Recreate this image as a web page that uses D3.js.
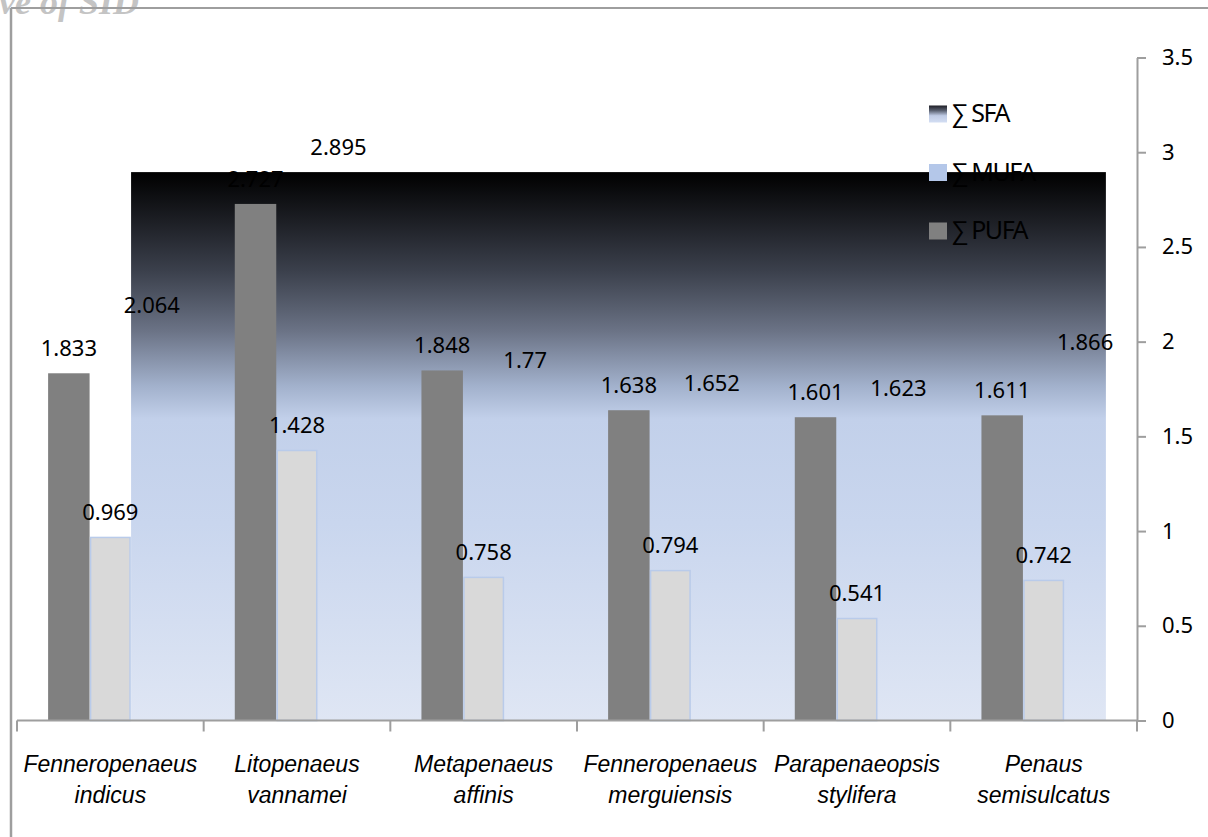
<!DOCTYPE html>
<html>
<head>
<meta charset="utf-8">
<script src="https://cdn.jsdelivr.net/npm/d3@7"></script>
<style>
  html, body { margin: 0; padding: 0; background: #fff; overflow: hidden; }
  svg { display: block; }
</style>
</head>
<body>
<svg id="chart" width="1208" height="837"></svg>
<script>
// Fatty acid totals per shrimp species
const categories = [
  "Fenneropenaeus indicus",
  "Litopenaeus vannamei",
  "Metapenaeus affinis",
  "Fenneropenaeus merguiensis",
  "Parapenaeopsis stylifera",
  "Penaus semisulcatus"
];
const sfa  = [2.064, 2.895, 1.77, 1.652, 1.623, 1.866];
const mufa = [0.969, 1.428, 0.758, 0.794, 0.541, 0.742];
const pufa = [1.833, 2.727, 1.848, 1.638, 1.601, 1.611];
const legendLabels = ["\u2211 SFA", "\u2211 MUFA", "\u2211 PUFA"];
const yTicks = [0, 0.5, 1, 1.5, 2, 2.5, 3, 3.5];

const svg = d3.select("#chart");
const plot = { left: 17, right: 1137, top: 57.5, bottom: 720.5 };
const axisColor = "#9e9e9e";
const numFont = "'Noto Sans', 'Open Sans', sans-serif";

const x = d3.scaleBand().domain(categories).range([plot.left, plot.right]).padding(0);
const slots = ["PUFA", "MUFA", "SFA"];
const xs = d3.scaleBand().domain(slots).range([0, x.bandwidth()])
  .paddingInner(0).paddingOuter(0.75);
const y = d3.scaleLinear().domain([0, 3.5]).range([plot.bottom, plot.top]);

// gradients
const defs = svg.append("defs");
const g1 = defs.append("linearGradient").attr("id", "sfaFill")
  .attr("x1", 0).attr("y1", 0).attr("x2", 0).attr("y2", 1);
[[0, "#000000"], [0.09, "#1d1f25"], [0.18, "#3b404c"], [0.25, "#596070"],
 [0.29, "#6b7386"], [0.39, "#a2b1cc"], [0.45, "#c2d0ea"], [0.64, "#c9d6ee"],
 [1, "#dfe6f4"]].forEach(([o, c]) => g1.append("stop").attr("offset", o).attr("stop-color", c));
const g2 = defs.append("linearGradient").attr("id", "sfaSwatch")
  .attr("x1", 0).attr("y1", 0).attr("x2", 0).attr("y2", 1);
[[0, "#1e1e26"], [0.3, "#5a6171"], [0.6, "#bfcbe5"], [1, "#d3def3"]]
  .forEach(([o, c]) => g2.append("stop").attr("offset", o).attr("stop-color", c));

// watermark
svg.append("text")
  .attr("x", 139).attr("y", 14)
  .attr("text-anchor", "end")
  .attr("font-family", "'Liberation Serif', serif")
  .attr("font-style", "italic").attr("font-weight", "bold")
  .attr("font-size", 36).attr("fill", "#c4c4c4")
  .text("Archive of SID");

// frame
svg.append("line").attr("x1", 11).attr("x2", 1208).attr("y1", 8).attr("y2", 8)
  .attr("stroke", axisColor).attr("stroke-width", 2);
svg.append("line").attr("x1", 11).attr("x2", 11).attr("y1", 8).attr("y2", 837)
  .attr("stroke", axisColor).attr("stroke-width", 2.5);

// SFA series block
const sfaX0 = x(categories[0]) + xs("SFA");
const sfaX1 = x(categories[categories.length - 1]) + xs("SFA") + xs.bandwidth();
svg.append("rect")
  .attr("x", sfaX0).attr("y", y(d3.max(sfa)))
  .attr("width", sfaX1 - sfaX0).attr("height", y(0) - y(d3.max(sfa)))
  .attr("fill", "url(#sfaFill)");

// PUFA bars
svg.append("g").selectAll("rect").data(pufa).join("rect")
  .attr("x", (d, i) => x(categories[i]) + xs("PUFA"))
  .attr("y", d => y(d))
  .attr("width", xs.bandwidth())
  .attr("height", d => y(0) - y(d))
  .attr("fill", "#808080");

// MUFA bars
svg.append("g").selectAll("rect").data(mufa).join("rect")
  .attr("x", (d, i) => x(categories[i]) + xs("MUFA") + 1)
  .attr("y", d => y(d) + 0.5)
  .attr("width", xs.bandwidth() - 2)
  .attr("height", d => y(0) - y(d) - 0.5)
  .attr("fill", "#d9d9d9")
  .attr("stroke", "#b9cbea").attr("stroke-width", 1.5);

// value labels
const labelSets = [["PUFA", pufa], ["MUFA", mufa], ["SFA", sfa]];
labelSets.forEach(([key, vals]) => {
  svg.append("g").selectAll("text").data(vals).join("text")
    .attr("x", (d, i) => x(categories[i]) + xs(key) + xs.bandwidth() / 2)
    .attr("y", d => y(d) - 17)
    .attr("text-anchor", "middle")
    .attr("font-family", numFont).attr("font-size", 22).attr("fill", "#000")
    .text(d => String(d));
});

// right value axis
const yAxis = svg.append("g").attr("transform", `translate(${plot.right},0)`)
  .call(d3.axisRight(y).tickValues(yTicks).tickSize(9).tickSizeOuter(0)
    .tickPadding(16).tickFormat(d => String(d)));
yAxis.select(".domain").attr("stroke", axisColor).attr("stroke-width", 2);
yAxis.selectAll(".tick line").attr("stroke", axisColor).attr("stroke-width", 2);
yAxis.selectAll(".tick text").attr("font-family", numFont).attr("font-size", 22).attr("fill", "#000");

// category axis
svg.append("line").attr("x1", plot.left).attr("x2", plot.right)
  .attr("y1", plot.bottom).attr("y2", plot.bottom)
  .attr("stroke", axisColor).attr("stroke-width", 2);
const bounds = categories.map(c => x(c)).concat([plot.right]);
svg.append("g").selectAll("line").data(bounds).join("line")
  .attr("x1", d => d).attr("x2", d => d)
  .attr("y1", plot.bottom).attr("y2", plot.bottom + 11)
  .attr("stroke", axisColor).attr("stroke-width", 2);

const xAxis = svg.append("g").attr("transform", `translate(0,${plot.bottom})`)
  .call(d3.axisBottom(x).tickSize(0).tickPadding(0));
xAxis.select(".domain").remove();
xAxis.selectAll(".tick text").each(function(d) {
  const t = d3.select(this);
  const words = d.split(" ");
  t.text(null).attr("dy", null).attr("y", null)
    .attr("font-family", "'Liberation Sans', Arial, sans-serif")
    .attr("font-style", "italic").attr("font-size", 23).attr("fill", "#000");
  words.forEach((w, k) => t.append("tspan").attr("x", 0).attr("y", 51.5 + k * 31).text(w));
});

// legend
const swatchFills = ["url(#sfaSwatch)", "#b4c7e9", "#808080"];
const legend = svg.append("g").selectAll("g").data(legendLabels).join("g")
  .attr("transform", (d, i) => `translate(929,${114 + i * 58.5})`);
legend.append("rect")
  .attr("x", 0).attr("y", -8.5).attr("width", 18).attr("height", 17)
  .attr("fill", (d, i) => swatchFills[i]);
legend.append("text")
  .attr("x", 23).attr("y", 8)
  .attr("font-family", numFont).attr("font-size", 25)
  .attr("letter-spacing", -1.5).attr("fill", "#000")
  .text(d => d);
</script>
</body>
</html>
